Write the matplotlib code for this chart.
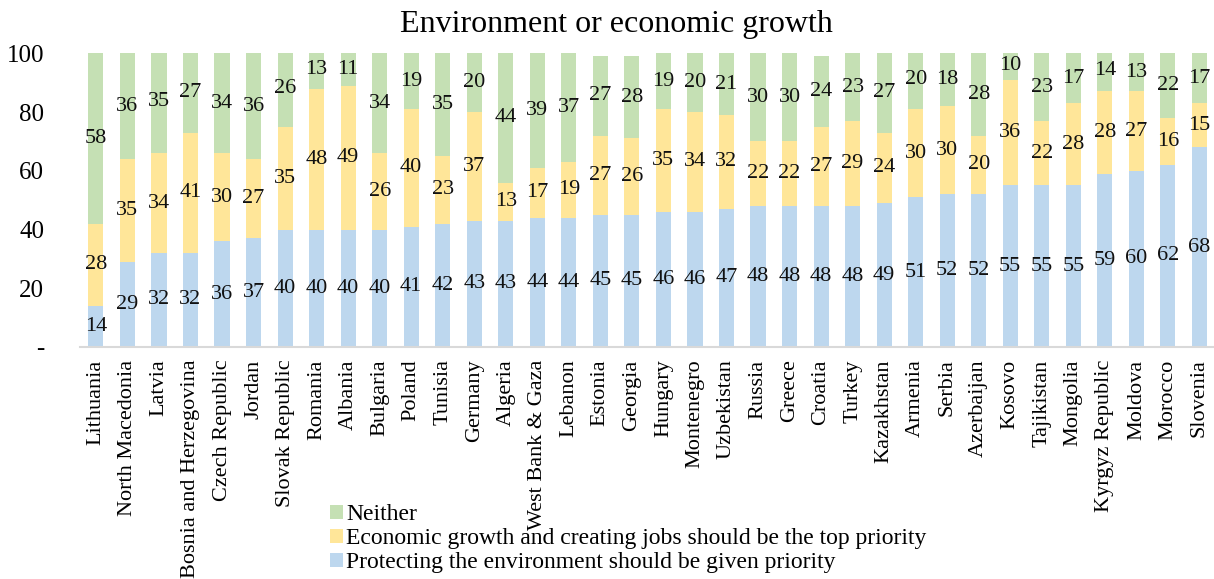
import numpy as np
import matplotlib.pyplot as plt

plt.rcParams['font.family'] = ['Liberation Serif', 'DejaVu Serif']

## DATA
countries = ['Lithuania', 'North Macedonia', 'Latvia', 'Bosnia and Herzegovina', 'Czech Republic',
             'Jordan', 'Slovak Republic', 'Romania', 'Albania', 'Bulgaria', 'Poland', 'Tunisia',
             'Germany', 'Algeria', 'West Bank & Gaza', 'Lebanon', 'Estonia', 'Georgia', 'Hungary',
             'Montenegro', 'Uzbekistan', 'Russia', 'Greece', 'Croatia', 'Turkey', 'Kazakhstan',
             'Armenia', 'Serbia', 'Azerbaijan', 'Kosovo', 'Tajikistan', 'Mongolia',
             'Kyrgyz Republic', 'Moldova', 'Morocco', 'Slovenia']
environment = [14, 29, 32, 32, 36, 37, 40, 40, 40, 40, 41, 42, 43, 43, 44, 44, 45, 45, 46,
               46, 47, 48, 48, 48, 48, 49, 51, 52, 52, 55, 55, 55, 59, 60, 62, 68]
economy = [28, 35, 34, 41, 30, 27, 35, 48, 49, 26, 40, 23, 37, 13, 17, 19, 27, 26, 35,
           34, 32, 22, 22, 27, 29, 24, 30, 30, 20, 36, 22, 28, 28, 27, 16, 15]
neither = [58, 36, 35, 27, 34, 36, 26, 13, 11, 34, 19, 35, 20, 44, 39, 37, 27, 28, 19,
           20, 21, 30, 30, 24, 23, 27, 20, 18, 28, 10, 23, 17, 14, 13, 22, 17]
series_names = ['Protecting the environment should be given priority',
                'Economic growth and creating jobs should be the top priority',
                'Neither']
colors = ['#BDD7EE', '#FFE699', '#C5E0B4']
yticks = [0, 20, 40, 60, 80, 100]
ytick_labels = ['-', '20', '40', '60', '80', '100']

## PLOT
fig = plt.figure(figsize=(12.14, 5.79), dpi=100)
ax = fig.add_axes([0.066, 0.4007, 0.935, 0.5073])
x = np.arange(len(countries))
bottom = np.zeros(len(countries))
handles = []
for vals, name, c in zip([environment, economy, neither], series_names, colors):
    vals = np.array(vals, dtype=float)
    h = ax.bar(x, vals, 0.48, bottom=bottom, color=c, label=name)
    handles.append(h)
    # value labels in the middle of each segment
    for xi, b, v in zip(x, bottom, vals):
        ax.text(xi, b + v / 2, '%d' % v, ha='center', va='center', fontsize=16, color='#111111')
    bottom += vals

ax.set_xlim(-0.5, 35.5)
ax.set_ylim(0, 100)
ax.set_yticks(yticks)
ax.set_yticklabels(ytick_labels, fontsize=18)
ax.set_xticks(x)
ax.set_xticklabels(countries, rotation=90, fontsize=16)
ax.tick_params(axis='both', length=0)
ax.tick_params(axis='x', pad=9)
ax.tick_params(axis='y', pad=26)
for s in ['top', 'right', 'left']:
    ax.spines[s].set_visible(False)
ax.spines['bottom'].set_color('#D9D9D9')
ax.spines['bottom'].set_linewidth(1.5)

fig.text(0.508, 0.958, 'Environment or economic growth', ha='center', va='center', fontsize=23)

fig.legend(handles[::-1], series_names[::-1], loc='lower left', bbox_to_anchor=(0.264, -0.006),
           frameon=False, fontsize=17, handlelength=0.55, handleheight=0.55, handletextpad=0.15,
           labelspacing=0.12, borderaxespad=0)

fig.savefig('out.png', dpi=100)
